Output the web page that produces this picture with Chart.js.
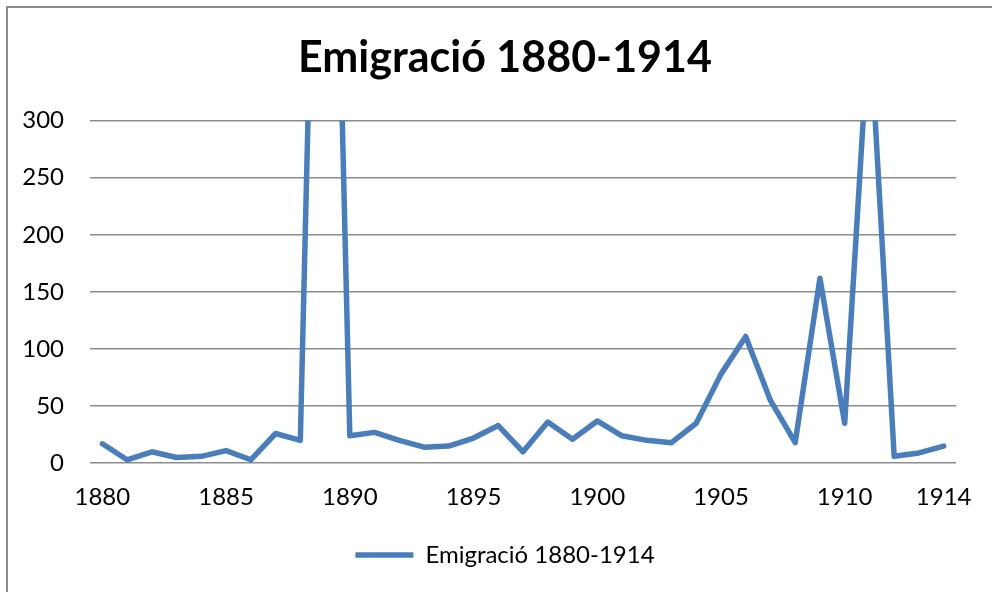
<!DOCTYPE html>
<html>
<head>
<meta charset="utf-8">
<title>Emigració 1880-1914</title>
<script src="https://cdn.jsdelivr.net/npm/chart.js@4.4.1/dist/chart.umd.min.js"></script>
<style>
    html, body { margin: 0; padding: 0; background: #fff; overflow: hidden; }
    #frame {
        position: absolute; left: 6px; top: 6px; width: 1000px; height: 600px;
        border-top: 2px solid #8c8c8c; border-left: 2px solid #8c8c8c;
    }
    #wrap { position: absolute; left: 0; top: 0; width: 992px; height: 592px; }
</style>
</head>
<body>
<div id="frame"></div>
<div id="wrap"><canvas id="myChart"></canvas></div>
<script>
"use strict";

const TITLE = "Emigració 1880-1914";
const YEARS = [1880, 1881, 1882, 1883, 1884, 1885, 1886, 1887, 1888, 1889,
    1890, 1891, 1892, 1893, 1894, 1895, 1896, 1897, 1898, 1899,
    1900, 1901, 1902, 1903, 1904, 1905, 1906, 1907, 1908, 1909,
    1910, 1911, 1912, 1913, 1914];
const EMIGRANTS = [17, 3, 10, 5, 6, 11, 3, 26, 20, 930,
    24, 27, 20, 14, 15, 22, 33, 10, 36, 21,
    37, 24, 20, 18, 35, 78, 111, 55, 18, 162,
    35, 390, 6, 9, 15];
const Y_MIN = 0;
const Y_MAX = 300;
const Y_STEP = 50;

const BLUE = "#4a7ebb";
const GRID = "#8c8c8c";
const FONT = "Lato, 'Open Sans', sans-serif";

document.addEventListener("DOMContentLoaded", init);

// y labels stick out left of the narrow axis box, so widen its clip area
const unclipYLabels = {
    id: "unclipYLabels",
    afterLayout(chart) {
        chart.scales.y.left = 0;
    }
};

function init()
{
    const data = {
        labels: YEARS.map(String),
        datasets: [{
            label: TITLE,
            data: EMIGRANTS,
            borderColor: BLUE,
            backgroundColor: BLUE,
            borderWidth: 5.5,
            borderJoinStyle: "round",
            borderCapStyle: "round",
            tension: 0,
            pointRadius: 0,
            clip: 0
        }]
    };

    const config = {
        type: "line",
        data: data,
        plugins: [unclipYLabels],
        options: {
            responsive: true,
            maintainAspectRatio: false,
            animation: false,
            // left padding keeps title and legend centred like the plot box
            layout: { padding: { left: 53, right: 35, top: 0, bottom: 15 } },
            plugins: {
                title: {
                    display: true,
                    text: TITLE,
                    color: "#000",
                    font: { family: FONT, size: 43, weight: "bold" },
                    padding: { top: 32, bottom: 37 }
                },
                legend: {
                    position: "bottom",
                    labels: {
                        color: "#000",
                        font: { family: FONT, size: 24 },
                        usePointStyle: true,
                        pointStyle: "line",
                        pointStyleWidth: 58,
                        padding: 11
                    }
                },
                tooltip: { enabled: false }
            },
            scales: {
                x: {
                    offset: true,
                    grid: { display: false, drawTicks: false },
                    border: { display: false },
                    ticks: {
                        color: "#000",
                        font: { family: FONT, size: 24 },
                        autoSkip: false,
                        maxRotation: 0,
                        padding: 20,
                        // every fifth year, plus the last one
                        callback: function (val, i) {
                            const year = YEARS[i];
                            if ((year - YEARS[0]) % 5 === 0 || i === YEARS.length - 1) {
                                return String(year);
                            }
                            return "";
                        }
                    }
                },
                y: {
                    min: Y_MIN,
                    max: Y_MAX,
                    grid: { color: GRID, lineWidth: 1.6, drawTicks: false },
                    border: { display: false },
                    ticks: {
                        stepSize: Y_STEP,
                        color: "#000",
                        font: { family: FONT, size: 24 },
                        padding: 26
                    },
                    afterFit: function (scale) { scale.width = 37; }
                }
            }
        }
    };

    const myChart = new Chart(document.getElementById("myChart"), config);
}
</script>
</body>
</html>
